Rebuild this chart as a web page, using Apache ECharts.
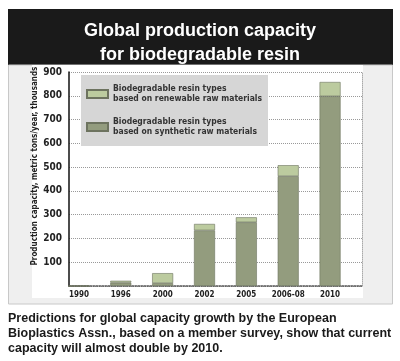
<!DOCTYPE html>
<html><head><meta charset="utf-8">
<script src="https://cdn.jsdelivr.net/npm/echarts@6/dist/echarts.min.js"></script>
<style>html,body{margin:0;padding:0;background:#fff}#c{width:400px;height:361px}</style>
</head><body><div id="c"></div>
<script>
const categories = ['1990','1996','2000','2002','2005','2006-08','2010'];
const synthetic = [0, 14, 12, 234, 268, 462, 798];
const renewable = [0, 8, 42, 27, 21, 46, 60];
const yTicks = [0, 900, 100];
const nameRenew = 'Biodegradable resin types\nbased on renewable raw materials';
const nameSynth = 'Biodegradable resin types\nbased on synthetic raw materials';
const titleText = 'Global production capacity\nfor biodegradable resin';
const yTitle = 'Production capacity, metric tons/year, thousands';
const caption = 'Predictions for global capacity growth by the European\nBioplastics Assn., based on a member survey, show that current\ncapacity will almost double by 2010.';

const narrow = '"Liberation Sans Narrow", "Arial Narrow", "DejaVu Sans Condensed", sans-serif';
const chart = echarts.init(document.getElementById('c'), null, {renderer:'canvas'});
chart.setOption({
  animation:false,
  backgroundColor:'#ffffff',
  graphic:[
    {type:'rect', z:-10, shape:{x:8,y:9,width:385,height:56}, style:{fill:'#1a1a1a'}},
    {type:'rect', z:-10, shape:{x:8.5,y:65,width:384,height:239}, style:{fill:'#efefef', stroke:'#c8c8c8', lineWidth:1}},
    {type:'rect', z:-9, shape:{x:32,y:65,width:331,height:233}, style:{fill:'#ffffff'}},
    {type:'text', x:35, y:166, rotation:Math.PI/2, style:{text:yTitle, fill:'#222', font:'bold 8px '+narrow, textAlign:'center', textVerticalAlign:'middle'}}
  ],
  title:[
    {text:titleText, left:'center', top:14, textStyle:{color:'#fff', fontSize:18, fontWeight:'bold', lineHeight:24, fontFamily:'"Liberation Sans", Arial, sans-serif'}},
    {text:caption, left:3, top:306, textStyle:{color:'#1a1a1a', fontSize:12.5, fontWeight:'bold', lineHeight:15, fontFamily:'"Liberation Sans", Arial, sans-serif'}}
  ],
  legend:{
    orient:'vertical', left:81, top:75,
    data:[nameRenew, nameSynth],
    backgroundColor:'#d6d6d6', padding:[9,6,9,5], itemGap:13,
    itemWidth:21, itemHeight:8, icon:'rect',
    textStyle:{fontSize:8.5, fontWeight:'bold', color:'#333', lineHeight:10, fontFamily:narrow}
  },
  grid:[
    {left:69, right:38, top:72, bottom:75},
    {left:58, right:49, top:72, bottom:75}
  ],
  xAxis:[{
    gridIndex:0, type:'value', min:0, max:1,
    axisLine:{show:true, onZero:false, lineStyle:{color:'#555', type:'dotted', width:1.5}},
    axisTick:{show:false}, splitLine:{show:false}, axisLabel:{show:false}
  },{
    gridIndex:1, type:'category', data:categories,
    axisLine:{show:false}, axisTick:{show:false},
    axisLabel:{interval:0, hideOverlap:false, fontSize:8, fontWeight:'bold', color:'#222', margin:5, fontFamily:narrow}
  }],
  yAxis:[{
    gridIndex:0, type:'value', min:yTicks[0], max:yTicks[1], interval:yTicks[2],
    axisLine:{show:true, lineStyle:{color:'#111', width:1.5}},
    axisTick:{show:false},
    splitLine:{show:true, lineStyle:{color:'#999', type:'dotted', width:1}},
    axisLabel:{formatter:v=>v===0?'':String(v), fontSize:10, fontWeight:'bold', color:'#222', margin:7, fontFamily:narrow}
  },{
    gridIndex:0, type:'value', position:'right', min:yTicks[0], max:yTicks[1], interval:yTicks[2],
    axisLine:{show:true, lineStyle:{color:'#aaa', type:'dotted', width:1}},
    axisTick:{show:false}, axisLabel:{show:false}, splitLine:{show:false}
  },{
    gridIndex:1, type:'value', min:yTicks[0], max:yTicks[1], interval:yTicks[2],
    show:false, splitLine:{show:false}
  }],
  series:[
    {name:nameSynth, type:'bar', stack:'s', barWidth:21, xAxisIndex:1, yAxisIndex:2, data:synthetic,
     itemStyle:{color:'#939c7e', borderColor:'#6d735f', borderWidth:0.6}},
    {name:nameRenew, type:'bar', stack:'s', barWidth:21, xAxisIndex:1, yAxisIndex:2, data:renewable,
     itemStyle:{color:'#bccb9f', borderColor:'#6d735f', borderWidth:0.6}}
  ]
});
</script></body></html>
